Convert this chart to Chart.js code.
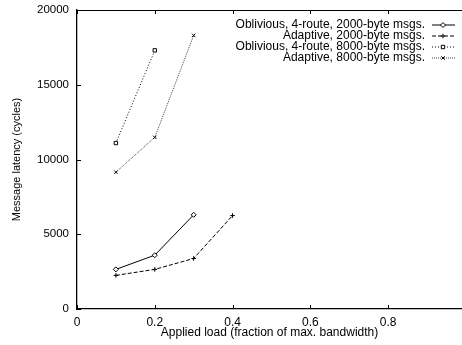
<!DOCTYPE html>
<html>
<head>
<meta charset="utf-8">
<script src="https://cdn.jsdelivr.net/npm/chart.js@4.4.0/dist/chart.umd.min.js"></script>
<style>
  html, body { margin: 0; padding: 0; background: #fff; }
  #wrap { width: 462px; height: 345px; }
</style>
</head>
<body>
<div id="wrap"><canvas id="latChart" width="462" height="345"></canvas></div>
<script>
// applied load values (x)
const loads = [0.1, 0.2, 0.3, 0.4];
// message latency in cycles
const oblivious2000 = [2650, 3600, 6300];
const adaptive2000 = [2250, 2650, 3380, 6250];
const oblivious8000 = [11100, 17300];
const adaptive8000 = [9150, 11480, 18300];

const seriesNames = [
  "Oblivious, 4-route, 2000-byte msgs.",
  "Adaptive, 2000-byte msgs.",
  "Oblivious, 4-route, 8000-byte msgs.",
  "Adaptive, 8000-byte msgs."
];
const xTicks = [0, 0.2, 0.4, 0.6, 0.8];
const yTicks = [0, 5000, 10000, 15000, 20000];

const FONT = "'Liberation Sans', Arial, Helvetica, sans-serif";
const FS = 12;

function pts(vals){
  return vals.map(function(v, i){ return {x: loads[i], y: v}; });
}

const styles = [
  {dash: [], point: 'rectRot', r: 2.5, color: '#000'},
  {dash: [4, 2], point: 'cross', r: 2.3, color: '#000'},
  {dash: [1, 2], point: 'rect', r: 2.4, color: '#000'},
  {dash: [1, 1], point: 'crossRot', r: 2.4, color: '#444'}
];

const allData = [oblivious2000, adaptive2000, oblivious8000, adaptive8000];

const datasets = allData.map(function(d, i){
  const s = styles[i];
  return {
    label: seriesNames[i],
    data: pts(d),
    borderColor: s.color,
    borderWidth: 1,
    borderDash: s.dash,
    pointStyle: s.point,
    pointRadius: s.r,
    pointBorderColor: '#000',
    pointBackgroundColor: '#fff',
    pointBorderWidth: 1,
    fill: false,
    tension: 0,
    clip: false
  };
});

// inward ticks, top border and gnuplot-style key
const framePlugin = {
  id: 'frame',
  afterDraw: function(chart){
    const ctx = chart.ctx;
    const a = chart.chartArea;
    const xs = chart.scales.x, ys = chart.scales.y;
    ctx.save();
    ctx.strokeStyle = '#000';
    ctx.lineWidth = 1;
    ctx.setLineDash([]);
    ctx.beginPath();
    ctx.moveTo(a.left, a.top + 0.5);
    ctx.lineTo(a.right, a.top + 0.5);
    xTicks.forEach(function(v){
      const px = Math.round(xs.getPixelForValue(v)) + 0.5;
      ctx.moveTo(px, a.bottom); ctx.lineTo(px, a.bottom - 4);
      ctx.moveTo(px, a.top); ctx.lineTo(px, a.top + 4);
    });
    yTicks.forEach(function(v){
      const py = Math.round(ys.getPixelForValue(v)) + 0.5;
      ctx.moveTo(a.left, py); ctx.lineTo(a.left + 4, py);
    });
    ctx.stroke();

    // key
    const rowY = [24.5, 35.5, 46.5, 57.5];
    seriesNames.forEach(function(name, i){
      const s = styles[i];
      const y = rowY[i];
      ctx.font = FS + 'px ' + FONT;
      ctx.fillStyle = '#000';
      ctx.textAlign = 'right';
      ctx.textBaseline = 'middle';
      ctx.fillText(name, 425, y);
      ctx.beginPath();
      ctx.strokeStyle = s.color;
      ctx.setLineDash(s.dash);
      ctx.moveTo(432, y + 0.5);
      ctx.lineTo(455, y + 0.5);
      ctx.stroke();
      ctx.setLineDash([]);
      ctx.strokeStyle = '#000';
      ctx.fillStyle = '#fff';
      Chart.helpers.drawPoint(ctx, {pointStyle: s.point, radius: s.r, borderWidth: 1}, 443, y + 0.5);
    });
    ctx.restore();
  }
};

function renderChart(){
  const ctx = document.querySelector('#latChart').getContext('2d');
  new Chart(ctx, {
    type: 'line',
    data: {datasets: datasets},
    options: {
      responsive: false,
      animation: false,
      layout: {autoPadding: false, padding: {top: 10, right: 0, left: 0, bottom: 0}},
      plugins: {legend: {display: false}, tooltip: {enabled: false}},
      scales: {
        x: {
          type: 'linear',
          min: 0, max: 0.99,
          afterBuildTicks: function(s){ s.ticks = xTicks.map(function(v){ return {value: v}; }); },
          afterFit: function(s){
            s.height = 36;
            s.paddingLeft = 0; s.paddingRight = 0;
          },
          grid: {display: true, drawOnChartArea: false, drawTicks: false},
          border: {display: true, color: '#000', width: 1.3},
          ticks: {
            color: '#000', padding: 6, maxRotation: 0,
            font: {family: FONT, size: FS},
            callback: function(v){ return v === 0 ? '0' : v.toFixed(1); }
          },
          title: {display: true, text: 'Applied load (fraction of max. bandwidth)', color: '#000',
                  font: {family: FONT, size: FS}, padding: {top: 0, bottom: 5}}
        },
        y: {
          min: 0, max: 20000,
          afterBuildTicks: function(s){ s.ticks = yTicks.map(function(v){ return {value: v}; }); },
          afterFit: function(s){
            s.width = 77;
            s.paddingTop = 0; s.paddingBottom = 0;
          },
          grid: {display: true, drawOnChartArea: false, drawTicks: false},
          border: {display: true, color: '#000', width: 1.3},
          ticks: {
            color: '#000', padding: 8, font: {family: FONT, size: 11.5},
            callback: function(v){ return String(v); }
          },
          title: {display: true, text: 'Message latency (cycles)', color: '#000',
                  font: {family: FONT, size: 11}, padding: {top: 10, bottom: 0}}
        }
      }
    },
    plugins: [framePlugin]
  });
}

renderChart();
</script>
</body>
</html>
